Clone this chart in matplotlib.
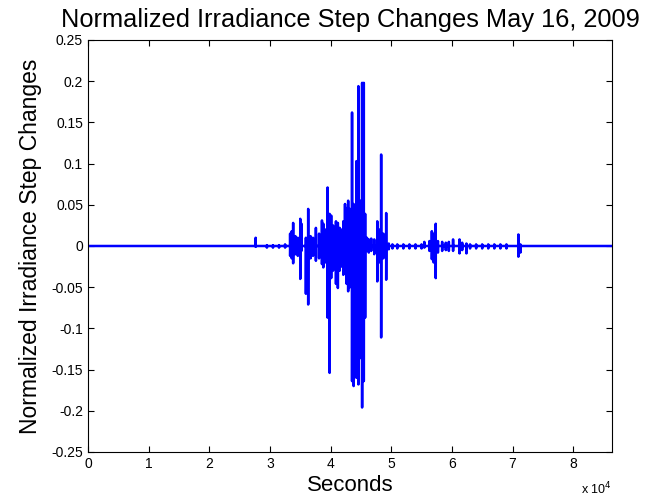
import numpy as np
import matplotlib
matplotlib.use("Agg")
import matplotlib.pyplot as plt

# step-change events: time (s), positive step, negative step
spike_t = [27650, 29500, 30500, 31500, 32500, 33330, 33600, 33830, 34200, 34600, 35000,
           35200, 35930, 36310, 36700, 37100, 37580, 38100, 38580, 38800, 39200, 39510,
           39840, 40100, 40400, 40890, 41200, 41500, 41800, 42100, 42380, 42650, 42900,
           43200, 43540, 43800, 44000, 44260, 44590, 44900, 45200, 45480, 45700, 46000,
           46300, 46700, 47200, 47700, 48000, 48340, 48700, 49170, 49600, 50200, 51000,
           52000, 53000, 54000, 55000, 55460, 56300, 56700, 57000, 57340, 57700, 58400,
           59000, 59500, 60200, 61260, 61700, 62400, 63000, 64000, 65000, 66000, 67000,
           68000, 69000, 70970, 71300]
spike_up = [0.010, 0.001, 0.001, 0.001, 0.002, 0.015, 0.018, 0.028, 0.012, 0.010, 0.033,
            0.027, 0.010, 0.045, 0.012, 0.010, 0.022, 0.015, 0.031, 0.027, 0.020, 0.071,
            0.039, 0.037, 0.025, 0.030, 0.028, 0.022, 0.020, 0.030, 0.051, 0.046, 0.055,
            0.045, 0.162, 0.051, 0.048, 0.103, 0.194, 0.055, 0.198, 0.198, 0.039, 0.010,
            0.008, 0.009, 0.008, 0.030, 0.020, 0.111, 0.015, 0.040, 0.003, 0.002, 0.002,
            0.002, 0.002, 0.002, 0.002, 0.005, 0.006, 0.018, 0.015, 0.027, 0.006, 0.005,
            0.004, 0.005, 0.008, 0.008, 0.004, 0.003, 0.002, 0.002, 0.002, 0.002, 0.002,
            0.002, 0.002, 0.014, 0.002]
spike_down = [-0.001, -0.002, -0.002, -0.002, -0.002, -0.012, -0.015, -0.021, -0.010, -0.012,
              -0.040, -0.006, -0.058, -0.071, -0.015, -0.012, -0.018, -0.015, -0.022, -0.026,
              -0.020, -0.087, -0.154, -0.039, -0.030, -0.046, -0.051, -0.030, -0.025, -0.035,
              -0.015, -0.046, -0.055, -0.050, -0.164, -0.170, -0.060, -0.160, -0.168, -0.136,
              -0.196, -0.164, -0.087, -0.006, -0.008, -0.006, -0.010, -0.043, -0.020, -0.111,
              -0.015, -0.041, -0.004, -0.003, -0.003, -0.003, -0.003, -0.003, -0.003, -0.002,
              -0.006, -0.016, -0.020, -0.039, -0.008, -0.006, -0.005, -0.006, -0.006, -0.009,
              -0.005, -0.009, -0.003, -0.003, -0.003, -0.003, -0.003, -0.003, -0.003, -0.013,
              -0.008]
y_ticks = [-0.25, -0.2, -0.15, -0.1, -0.05, 0, 0.05, 0.1, 0.15, 0.2, 0.25]

t = np.arange(0, 86401)
steps = np.zeros(len(t))
for ts, up, dn in zip(spike_t, spike_up, spike_down):
    steps[ts] = up
    steps[ts + 1] = dn

plt.rcParams["font.family"] = ["Liberation Sans"]
fig = plt.figure(figsize=(6.45, 5.03), dpi=100)
ax = fig.add_axes([0.1364, 0.1014, 0.8124, 0.8191])
ax.plot(t, steps, color="#0000ff", linewidth=1.8)

ax.set_xlim(0, 86400)
ax.set_ylim(-0.25, 0.25)
ax.set_xticks(np.arange(0, 90000, 10000))
ax.set_xticklabels([str(i) for i in range(9)])
ax.set_yticks(y_ticks)
ax.set_yticklabels(["%g" % v for v in y_ticks])
ax.tick_params(direction="in", top=True, right=True, labelsize=10, length=4)
for s in ax.spines.values():
    s.set_linewidth(0.8)

ax.set_title("Normalized Irradiance Step Changes May 16, 2009", fontsize=18.3, pad=9)
ax.set_xlabel("Seconds", fontsize=16, labelpad=3)
ax.set_ylabel("Normalized Irradiance Step Changes", fontsize=16.5, labelpad=7)
ax.text(1.0, -0.09, r"x 10$^4$", transform=ax.transAxes, ha="right", va="center", fontsize=9)

fig.savefig("out.png", dpi=100)
